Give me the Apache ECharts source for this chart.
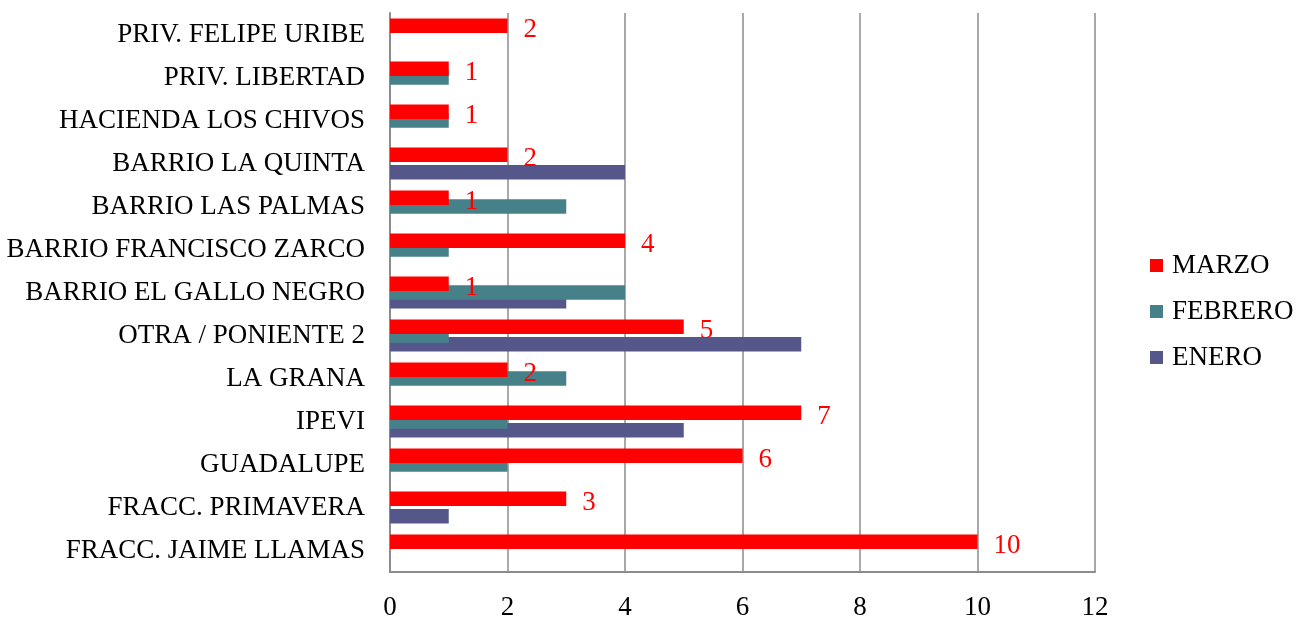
<!DOCTYPE html>
<html>
<head>
<meta charset="utf-8">
<script src="https://cdn.jsdelivr.net/npm/echarts@6/dist/echarts.min.js"></script>
<style>
html,body{margin:0;padding:0;background:#fff;}
#chart{width:1297px;height:618px;}
</style>
</head>
<body>
<div id="chart"></div>
<script>
var categories = ['FRACC. JAIME LLAMAS','FRACC. PRIMAVERA','GUADALUPE','IPEVI','LA GRANA','OTRA / PONIENTE 2','BARRIO EL GALLO NEGRO','BARRIO FRANCISCO ZARCO','BARRIO LAS PALMAS','BARRIO LA QUINTA','HACIENDA LOS CHIVOS','PRIV. LIBERTAD','PRIV. FELIPE URIBE'];
var marzo   = [10, 3, 6, 7, 2, 5, 1, 4, 1, 2, 1, 1, 2];
var febrero = [0, 0, 2, 2, 3, 1, 4, 1, 3, 0, 1, 1, 0];
var enero   = [0, 1, 0, 5, 0, 7, 3, 0, 0, 4, 0, 0, 0];
var xTicks = [0, 2, 4, 6, 8, 10, 12];

var FONT = '"Liberation Serif", "DejaVu Serif", serif';
var chart = echarts.init(document.getElementById('chart'));
function nz(arr){ return arr.map(function(v){ return v === 0 ? '-' : v; }); }
chart.setOption({
  animation: false,
  textStyle: { fontFamily: FONT },
  grid: { left: 390, right: 202, top: 13, bottom: 46, containLabel: false, outerBoundsMode: 'none' },
  legend: {
    orient: 'vertical',
    left: 1150,
    top: 252,
    padding: 0,
    itemWidth: 13,
    itemHeight: 13,
    itemGap: 19,
    icon: 'rect',
    data: ['MARZO', 'FEBRERO', 'ENERO'],
    textStyle: { fontFamily: FONT, fontSize: 27, color: '#000', lineHeight: 26, padding: [0, 0, 0, 4] }
  },
  xAxis: {
    type: 'value',
    min: xTicks[0],
    max: xTicks[xTicks.length - 1],
    interval: 2,
    axisLine: { show: true, lineStyle: { color: '#8c8c8c', width: 2 } },
    axisTick: { show: false },
    splitLine: { show: true, lineStyle: { color: '#8c8c8c', width: 1.5 } },
    axisLabel: { fontFamily: FONT, fontSize: 27, color: '#000', margin: 22 }
  },
  yAxis: {
    type: 'category',
    data: categories,
    axisLine: { show: true, lineStyle: { color: '#8c8c8c', width: 2 } },
    axisTick: { show: false },
    axisLabel: { fontFamily: FONT, fontSize: 27, color: '#000', margin: 25 }
  },
  series: [
    { name: 'MARZO', type: 'bar', data: nz(marzo), barWidth: 14.5, barGap: '-40%', itemStyle: { color: '#ff0000' }, z: 4,
      label: { show: true, position: 'right', distance: 16, offset: [0, 4], color: '#ff0000', fontFamily: FONT, fontSize: 27 } },
    { name: 'FEBRERO', type: 'bar', data: nz(febrero), barWidth: 14.5, barGap: '-40%', itemStyle: { color: '#468088' }, z: 3 },
    { name: 'ENERO', type: 'bar', data: nz(enero), barWidth: 14.5, barGap: '-40%', itemStyle: { color: '#55578a' }, z: 2 }
  ]
});
</script>
</body>
</html>
